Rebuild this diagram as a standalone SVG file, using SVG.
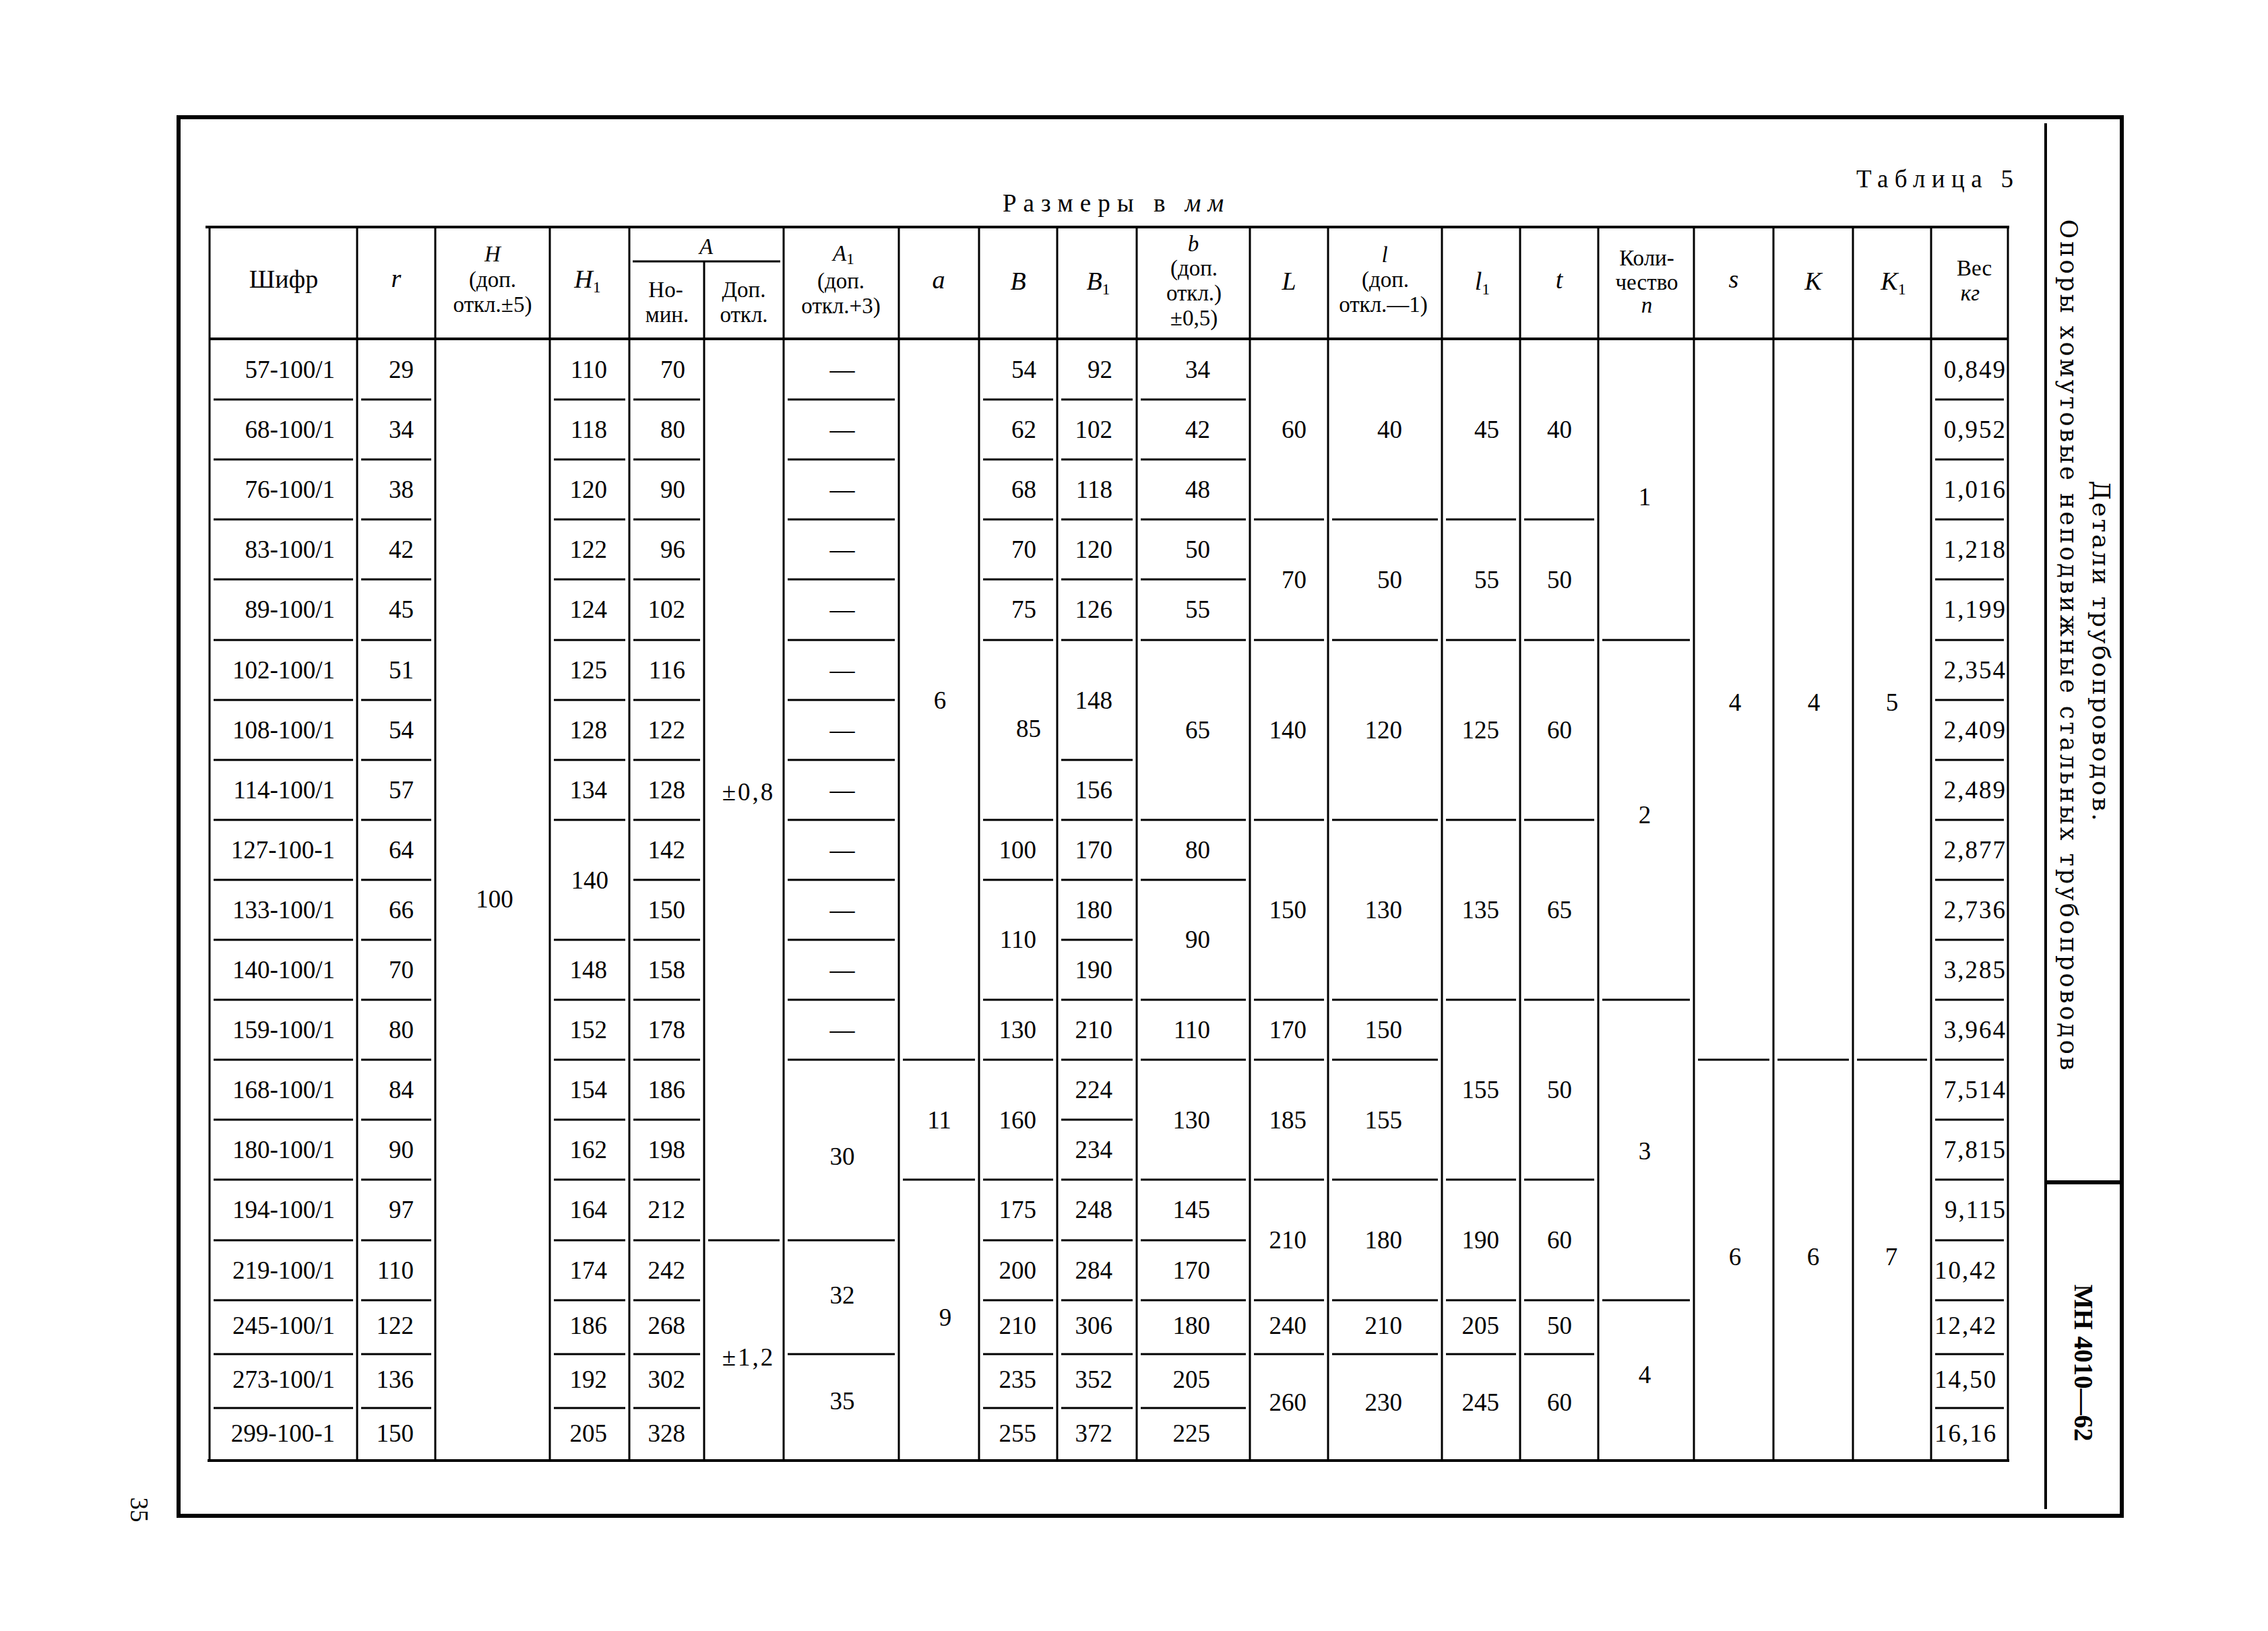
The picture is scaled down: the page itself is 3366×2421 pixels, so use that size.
<svg xmlns="http://www.w3.org/2000/svg" width="3366" height="2421" viewBox="0 0 3366 2421">
<style>
.ln{stroke:#000;fill:none;stroke-linecap:butt}
.thin{stroke-width:3}
.mid{stroke-width:4}
.thick{stroke-width:6}
text{fill:#000}
.d{font-family:"Liberation Serif","Times New Roman",serif;font-size:37px}
.e{text-anchor:end}
.m{text-anchor:middle}
.s{text-anchor:start}
.h{font-family:"Liberation Serif","Times New Roman",serif;font-size:38px;text-anchor:middle}
.k{font-size:33px}
.it{font-style:italic}
.sub{font-size:24px;font-style:normal}
.v{font-family:"DejaVu Serif",serif;text-anchor:middle}
.w{letter-spacing:2px}
.sp{letter-spacing:3px}
</style>
<rect x="0" y="0" width="3366" height="2421" fill="#fff"/>

<g id="frame" class="ln">
  <path class="thick" d="M262 174H3152M265 171V2252M262 2250H3152M3149 171V2252"/>
  <path class="mid" d="M3036 183V2240"/>
  <path class="thick" d="M3036 1755H3149"/>
</g>

<g id="title-block">
  <text class="v" font-size="36" transform="translate(3106,966) rotate(90)" textLength="505" lengthAdjust="spacing">Детали трубопроводов.</text>
  <text class="v" font-size="35" transform="translate(3058,957) rotate(90)" textLength="1263" lengthAdjust="spacing">Опоры хомутовые неподвижные стальных трубопроводов</text>
  <text font-family="Liberation Serif, serif" font-size="40" font-weight="bold" text-anchor="middle" transform="translate(3079,2023) rotate(90)" textLength="233" lengthAdjust="spacingAndGlyphs">МН 4010—62</text>
</g>

<g id="page-number">
  <text class="d m" font-size="42" transform="translate(194,2241) rotate(90)">35</text>
</g>

<g id="captions">
  <text class="d" font-size="38" x="2755" y="278" textLength="233" lengthAdjust="spacing">Таблица 5</text>
  <text class="d" font-size="30" x="1488" y="314" textLength="328" lengthAdjust="spacing">Размеры в <tspan class="it">мм</tspan></text>
</g>

<g id="grid" class="ln">
  <path class="mid" d="M305 337H2982M311 503H2980M308 2168H2982"/>
  <path class="thin" d="M939 388H1158"/>
  <path class="thin" d="M311 337V2168M530 337V2168M646 337V2168M816 337V2168M934 337V2168M1045 388V2168M1163 337V2168M1334 337V2168M1453 337V2168M1569 337V2168M1687 337V2168M1855 337V2168M1971 337V2168M2140 337V2168M2256 337V2168M2372 337V2168M2514 337V2168M2632 337V2168M2750 337V2168M2866 337V2168M2980 337V2168"/>
  <g class="thin">
    <path id="rows-shifr" d="M317 593H524M317 682H524M317 771H524M317 860H524M317 950H524M317 1039H524M317 1128H524M317 1217H524M317 1306H524M317 1395H524M317 1484H524M317 1573H524M317 1662H524M317 1751H524M317 1841H524M317 1930H524M317 2010H524M317 2090H524"/>
    <path id="rows-r" d="M536 593H640M536 682H640M536 771H640M536 860H640M536 950H640M536 1039H640M536 1128H640M536 1217H640M536 1306H640M536 1395H640M536 1484H640M536 1573H640M536 1662H640M536 1751H640M536 1841H640M536 1930H640M536 2010H640M536 2090H640"/>
    <path id="rows-h1" d="M822 593H928M822 682H928M822 771H928M822 860H928M822 950H928M822 1039H928M822 1128H928M822 1217H928M822 1395H928M822 1484H928M822 1573H928M822 1662H928M822 1751H928M822 1841H928M822 1930H928M822 2010H928M822 2090H928"/>
    <path id="rows-anom" d="M940 593H1039M940 682H1039M940 771H1039M940 860H1039M940 950H1039M940 1039H1039M940 1128H1039M940 1217H1039M940 1306H1039M940 1395H1039M940 1484H1039M940 1573H1039M940 1662H1039M940 1751H1039M940 1841H1039M940 1930H1039M940 2010H1039M940 2090H1039"/>
    <path id="rows-adop" d="M1051 1841H1157"/>
    <path id="rows-a1" d="M1169 593H1328M1169 682H1328M1169 771H1328M1169 860H1328M1169 950H1328M1169 1039H1328M1169 1128H1328M1169 1217H1328M1169 1306H1328M1169 1395H1328M1169 1484H1328M1169 1573H1328M1169 1841H1328M1169 2010H1328"/>
    <path id="rows-a" d="M1340 1573H1447M1340 1751H1447"/>
    <path id="rows-b" d="M1459 593H1563M1459 682H1563M1459 771H1563M1459 860H1563M1459 950H1563M1459 1217H1563M1459 1306H1563M1459 1484H1563M1459 1573H1563M1459 1751H1563M1459 1841H1563M1459 1930H1563M1459 2010H1563M1459 2090H1563"/>
    <path id="rows-b1" d="M1575 593H1681M1575 682H1681M1575 771H1681M1575 860H1681M1575 950H1681M1575 1128H1681M1575 1217H1681M1575 1306H1681M1575 1395H1681M1575 1484H1681M1575 1573H1681M1575 1662H1681M1575 1751H1681M1575 1841H1681M1575 1930H1681M1575 2010H1681M1575 2090H1681"/>
    <path id="rows-bs" d="M1693 593H1849M1693 682H1849M1693 771H1849M1693 860H1849M1693 950H1849M1693 1217H1849M1693 1306H1849M1693 1484H1849M1693 1573H1849M1693 1751H1849M1693 1841H1849M1693 1930H1849M1693 2010H1849M1693 2090H1849"/>
    <path id="rows-L" d="M1861 771H1965M1861 950H1965M1861 1217H1965M1861 1484H1965M1861 1573H1965M1861 1751H1965M1861 1930H1965M1861 2010H1965"/>
    <path id="rows-l" d="M1977 771H2134M1977 950H2134M1977 1217H2134M1977 1484H2134M1977 1573H2134M1977 1751H2134M1977 1930H2134M1977 2010H2134"/>
    <path id="rows-l1" d="M2146 771H2250M2146 950H2250M2146 1217H2250M2146 1484H2250M2146 1751H2250M2146 1930H2250M2146 2010H2250"/>
    <path id="rows-t" d="M2262 771H2366M2262 950H2366M2262 1217H2366M2262 1484H2366M2262 1751H2366M2262 1930H2366M2262 2010H2366"/>
    <path id="rows-n" d="M2378 950H2508M2378 1484H2508M2378 1930H2508"/>
    <path id="rows-sk" d="M2520 1573H2626M2638 1573H2744M2756 1573H2860"/>
    <path id="rows-ves" d="M2872 593H2974M2872 682H2974M2872 771H2974M2872 860H2974M2872 950H2974M2872 1039H2974M2872 1128H2974M2872 1217H2974M2872 1306H2974M2872 1395H2974M2872 1484H2974M2872 1573H2974M2872 1662H2974M2872 1751H2974M2872 1841H2974M2872 1930H2974M2872 2010H2974M2872 2090H2974"/>
  </g>
</g>

<g id="header" class="h">
  <text x="421" y="427">Шифр</text>
  <text x="588" y="426" class="it">r</text>
  <text x="731" y="388" class="it k">H</text>
  <text x="731" y="426" class="k">(доп.</text>
  <text x="731" y="463" class="k">откл.±5)</text>
  <text x="872" y="427"><tspan class="it">H</tspan><tspan class="sub" dy="7">1</tspan></text>
  <text x="1048" y="377" class="it k">A</text>
  <text x="988" y="441" class="k">Но-</text>
  <text x="990" y="478" class="k">мин.</text>
  <text x="1104" y="441" class="k">Доп.</text>
  <text x="1104" y="478" class="k">откл.</text>
  <text x="1252" y="387" class="k"><tspan class="it">A</tspan><tspan class="sub" dy="5">1</tspan></text>
  <text x="1248" y="428" class="k">(доп.</text>
  <text x="1248" y="465" class="k">откл.+3)</text>
  <text x="1393" y="428" class="it">a</text>
  <text x="1511" y="430" class="it">B</text>
  <text x="1630" y="430"><tspan class="it">B</tspan><tspan class="sub" dy="7">1</tspan></text>
  <text x="1771" y="373" class="it k">b</text>
  <text x="1772" y="409" class="k">(доп.</text>
  <text x="1772" y="446" class="k">откл.)</text>
  <text x="1772" y="483" class="k">±0,5)</text>
  <text x="1913" y="430" class="it">L</text>
  <text x="2055" y="389" class="it k">l</text>
  <text x="2056" y="426" class="k">(доп.</text>
  <text x="2053" y="463" class="k">откл.—1)</text>
  <text x="2200" y="430"><tspan class="it">l</tspan><tspan class="sub" dy="7">1</tspan></text>
  <text x="2314" y="428" class="it">t</text>
  <text x="2444" y="394" class="k">Коли-</text>
  <text x="2444" y="430" class="k">чество</text>
  <text x="2444" y="464" class="it k">n</text>
  <text x="2930" y="409" class="k">Вес</text>
  <text x="2924" y="446" class="it k">кг</text>
  <text x="2573" y="427" class="it">s</text>
  <text x="2691" y="430" class="it">K</text>
  <text x="2810" y="430"><tspan class="it">K</tspan><tspan class="sub" dy="7">1</tspan></text>
</g>

<g id="col-shifr" class="d e">
  <text x="497" y="561">57-100/1</text>
  <text x="497" y="650">68-100/1</text>
  <text x="497" y="739">76-100/1</text>
  <text x="497" y="828">83-100/1</text>
  <text x="497" y="917">89-100/1</text>
  <text x="497" y="1007">102-100/1</text>
  <text x="497" y="1096">108-100/1</text>
  <text x="497" y="1185">114-100/1</text>
  <text x="497" y="1274">127-100-1</text>
  <text x="497" y="1363">133-100/1</text>
  <text x="497" y="1452">140-100/1</text>
  <text x="497" y="1541">159-100/1</text>
  <text x="497" y="1630">168-100/1</text>
  <text x="497" y="1719">180-100/1</text>
  <text x="497" y="1808">194-100/1</text>
  <text x="497" y="1898">219-100/1</text>
  <text x="497" y="1980">245-100/1</text>
  <text x="497" y="2060">273-100/1</text>
  <text x="497" y="2140">299-100-1</text>
</g>

<g id="col-r" class="d e">
  <text x="614" y="561">29</text>
  <text x="614" y="650">34</text>
  <text x="614" y="739">38</text>
  <text x="614" y="828">42</text>
  <text x="614" y="917">45</text>
  <text x="614" y="1007">51</text>
  <text x="614" y="1096">54</text>
  <text x="614" y="1185">57</text>
  <text x="614" y="1274">64</text>
  <text x="614" y="1363">66</text>
  <text x="614" y="1452">70</text>
  <text x="614" y="1541">80</text>
  <text x="614" y="1630">84</text>
  <text x="614" y="1719">90</text>
  <text x="614" y="1808">97</text>
  <text x="614" y="1898">110</text>
  <text x="614" y="1980">122</text>
  <text x="614" y="2060">136</text>
  <text x="614" y="2140">150</text>
</g>

<g id="col-H" class="d m">
  <text x="734" y="1347">100</text>
</g>

<g id="col-H1" class="d e">
  <text x="901" y="561">110</text>
  <text x="901" y="650">118</text>
  <text x="901" y="739">120</text>
  <text x="901" y="828">122</text>
  <text x="901" y="917">124</text>
  <text x="901" y="1007">125</text>
  <text x="901" y="1096">128</text>
  <text x="901" y="1185">134</text>
  <text x="903" y="1319">140</text>
  <text x="901" y="1452">148</text>
  <text x="901" y="1541">152</text>
  <text x="901" y="1630">154</text>
  <text x="901" y="1719">162</text>
  <text x="901" y="1808">164</text>
  <text x="901" y="1898">174</text>
  <text x="901" y="1980">186</text>
  <text x="901" y="2060">192</text>
  <text x="901" y="2140">205</text>
</g>

<g id="col-A-nom" class="d e">
  <text x="1017" y="561">70</text>
  <text x="1017" y="650">80</text>
  <text x="1017" y="739">90</text>
  <text x="1017" y="828">96</text>
  <text x="1017" y="917">102</text>
  <text x="1017" y="1007">116</text>
  <text x="1017" y="1096">122</text>
  <text x="1017" y="1185">128</text>
  <text x="1017" y="1274">142</text>
  <text x="1017" y="1363">150</text>
  <text x="1017" y="1452">158</text>
  <text x="1017" y="1541">178</text>
  <text x="1017" y="1630">186</text>
  <text x="1017" y="1719">198</text>
  <text x="1017" y="1808">212</text>
  <text x="1017" y="1898">242</text>
  <text x="1017" y="1980">268</text>
  <text x="1017" y="2060">302</text>
  <text x="1017" y="2140">328</text>
</g>

<g id="col-A-dop" class="d m sp">
  <text x="1111" y="1188">±0,8</text>
  <text x="1111" y="2027">±1,2</text>
</g>

<g id="col-A1" class="d m">
  <text x="1250" y="561">—</text>
  <text x="1250" y="650">—</text>
  <text x="1250" y="739">—</text>
  <text x="1250" y="828">—</text>
  <text x="1250" y="917">—</text>
  <text x="1250" y="1007">—</text>
  <text x="1250" y="1096">—</text>
  <text x="1250" y="1185">—</text>
  <text x="1250" y="1274">—</text>
  <text x="1250" y="1363">—</text>
  <text x="1250" y="1452">—</text>
  <text x="1250" y="1541">—</text>
  <text x="1250" y="1729">30</text>
  <text x="1250" y="1935">32</text>
  <text x="1250" y="2092">35</text>
</g>

<g id="col-a" class="d m">
  <text x="1395" y="1052">6</text>
  <text x="1394" y="1675">11</text>
  <text x="1403" y="1968">9</text>
</g>

<g id="col-B" class="d e">
  <text x="1538" y="561">54</text>
  <text x="1538" y="650">62</text>
  <text x="1538" y="739">68</text>
  <text x="1538" y="828">70</text>
  <text x="1538" y="917">75</text>
  <text x="1545" y="1094">85</text>
  <text x="1538" y="1274">100</text>
  <text x="1538" y="1407">110</text>
  <text x="1538" y="1541">130</text>
  <text x="1538" y="1675">160</text>
  <text x="1538" y="1808">175</text>
  <text x="1538" y="1898">200</text>
  <text x="1538" y="1980">210</text>
  <text x="1538" y="2060">235</text>
  <text x="1538" y="2140">255</text>
</g>

<g id="col-B1" class="d e">
  <text x="1651" y="561">92</text>
  <text x="1651" y="650">102</text>
  <text x="1651" y="739">118</text>
  <text x="1651" y="828">120</text>
  <text x="1651" y="917">126</text>
  <text x="1651" y="1052">148</text>
  <text x="1651" y="1185">156</text>
  <text x="1651" y="1274">170</text>
  <text x="1651" y="1363">180</text>
  <text x="1651" y="1452">190</text>
  <text x="1651" y="1541">210</text>
  <text x="1651" y="1630">224</text>
  <text x="1651" y="1719">234</text>
  <text x="1651" y="1808">248</text>
  <text x="1651" y="1898">284</text>
  <text x="1651" y="1980">306</text>
  <text x="1651" y="2060">352</text>
  <text x="1651" y="2140">372</text>
</g>

<g id="col-b" class="d e">
  <text x="1796" y="561">34</text>
  <text x="1796" y="650">42</text>
  <text x="1796" y="739">48</text>
  <text x="1796" y="828">50</text>
  <text x="1796" y="917">55</text>
  <text x="1796" y="1096">65</text>
  <text x="1796" y="1274">80</text>
  <text x="1796" y="1407">90</text>
  <text x="1796" y="1541">110</text>
  <text x="1796" y="1675">130</text>
  <text x="1796" y="1808">145</text>
  <text x="1796" y="1898">170</text>
  <text x="1796" y="1980">180</text>
  <text x="1796" y="2060">205</text>
  <text x="1796" y="2140">225</text>
</g>

<g id="col-L" class="d e">
  <text x="1939" y="650">60</text>
  <text x="1939" y="873">70</text>
  <text x="1939" y="1096">140</text>
  <text x="1939" y="1363">150</text>
  <text x="1939" y="1541">170</text>
  <text x="1939" y="1675">185</text>
  <text x="1939" y="1853">210</text>
  <text x="1939" y="1980">240</text>
  <text x="1939" y="2094">260</text>
</g>

<g id="col-l" class="d e">
  <text x="2081" y="650">40</text>
  <text x="2081" y="873">50</text>
  <text x="2081" y="1096">120</text>
  <text x="2081" y="1363">130</text>
  <text x="2081" y="1541">150</text>
  <text x="2081" y="1675">155</text>
  <text x="2081" y="1853">180</text>
  <text x="2081" y="1980">210</text>
  <text x="2081" y="2094">230</text>
</g>

<g id="col-l1" class="d e">
  <text x="2225" y="650">45</text>
  <text x="2225" y="873">55</text>
  <text x="2225" y="1096">125</text>
  <text x="2225" y="1363">135</text>
  <text x="2225" y="1630">155</text>
  <text x="2225" y="1853">190</text>
  <text x="2225" y="1980">205</text>
  <text x="2225" y="2094">245</text>
</g>

<g id="col-t" class="d e">
  <text x="2333" y="650">40</text>
  <text x="2333" y="873">50</text>
  <text x="2333" y="1096">60</text>
  <text x="2333" y="1363">65</text>
  <text x="2333" y="1630">50</text>
  <text x="2333" y="1853">60</text>
  <text x="2333" y="1980">50</text>
  <text x="2333" y="2094">60</text>
</g>

<g id="col-n" class="d m">
  <text x="2441" y="750">1</text>
  <text x="2441" y="1222">2</text>
  <text x="2441" y="1721">3</text>
  <text x="2441" y="2053">4</text>
</g>

<g id="col-s-K-K1" class="d m">
  <text x="2575" y="1055">4</text>
  <text x="2692" y="1055">4</text>
  <text x="2808" y="1055">5</text>
  <text x="2575" y="1878">6</text>
  <text x="2691" y="1878">6</text>
  <text x="2807" y="1878">7</text>
</g>

<g id="col-ves" class="d w">
  <text class="e" x="2978" y="561">0,849</text>
  <text class="e" x="2978" y="650">0,952</text>
  <text class="e" x="2978" y="739">1,016</text>
  <text class="e" x="2978" y="828">1,218</text>
  <text class="e" x="2978" y="917">1,199</text>
  <text class="e" x="2978" y="1007">2,354</text>
  <text class="e" x="2978" y="1096">2,409</text>
  <text class="e" x="2978" y="1185">2,489</text>
  <text class="e" x="2978" y="1274">2,877</text>
  <text class="e" x="2978" y="1363">2,736</text>
  <text class="e" x="2978" y="1452">3,285</text>
  <text class="e" x="2978" y="1541">3,964</text>
  <text class="e" x="2978" y="1630">7,514</text>
  <text class="e" x="2978" y="1719">7,815</text>
  <text class="e" x="2978" y="1808">9,115</text>
  <text class="s" x="2871" y="1898">10,42</text>
  <text class="s" x="2871" y="1980">12,42</text>
  <text class="s" x="2871" y="2060">14,50</text>
  <text class="s" x="2871" y="2140">16,16</text>
</g>
</svg>
